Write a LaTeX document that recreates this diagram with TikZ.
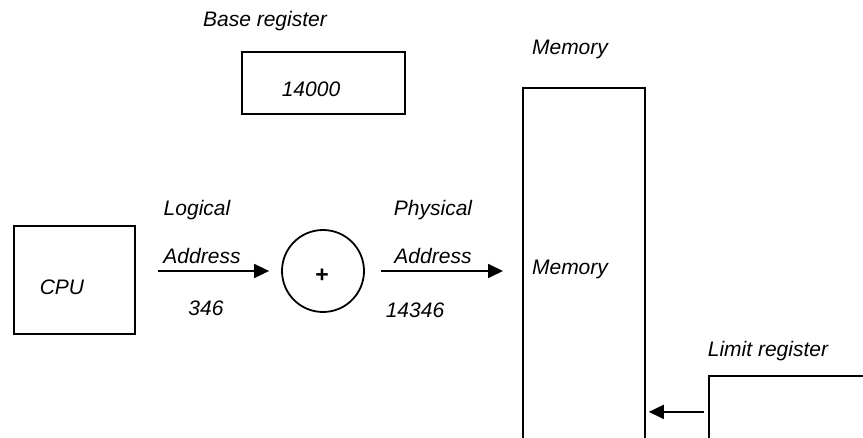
\documentclass[tikz,border=0pt]{standalone}
\usepackage{fontspec}
\setmainfont{Liberation Sans}
\usetikzlibrary{arrows.meta}

\tikzstyle{txt} = [font=\itshape\fontsize{10.5}{12}\selectfont, inner sep=0pt]
\tikzstyle{box} = [draw, line width=0.9pt, inner sep=0pt, anchor=north west]
\tikzstyle{adder} = [draw, circle, line width=0.9pt, minimum size=41pt, inner sep=0pt]
\tikzstyle{feed} = [line width=0.9pt, -{Triangle[length=7.5pt,width=7pt]}]

\begin{document}
\begin{tikzpicture}[x=0.5pt, y=-0.5pt]
\useasboundingbox (0,0) rectangle (863,438);
\clip (0,0) rectangle (863,438);
%base register
\node[txt] (baselbl) at (265,21) {Base register};
\node[box, minimum width=81.5pt, minimum height=31pt] (base) at (241,51) {};
\node[txt] (baseval) at (311,89) {14000};
%cpu
\node[box, minimum width=60.5pt, minimum height=54pt] (cpu) at (13,225) {};
\node[txt] (cputxt) at (62,287) {CPU};
%adder
\node[adder] (add) at (323,271) {};
\node[font=\bfseries\fontsize{11.5}{12}\selectfont, inner sep=0pt] (plus) at (322,276) {+};
%memory
\node[txt] (memlbl) at (570,49) {Memory};
\node[box, minimum width=61pt, minimum height=186.5pt] (mem) at (522,87) {};
\node[txt] (memtxt) at (570,269) {Memory};
%limit register
\node[txt] (limlbl) at (768,351) {Limit register};
\node[box, minimum width=91pt, minimum height=36pt] (limit) at (708,375) {};
%begin arrows
\draw[feed, shorten <=11pt, shorten >=6pt] (cpu.east |- add) -- (add);
\node[txt] (logical) at (197,210) {Logical};
\node[txt] (laddr) at (202,256) {Address};
\node[txt] (lval) at (206,308) {346};
\draw[feed, shorten <=8pt, shorten >=9.5pt] (add) -- (mem.west |- add);
\node[txt] (physical) at (433,210) {Physical};
\node[txt] (paddr) at (433,256) {Address};
\node[txt] (pval) at (415,310) {14346};
\draw[feed, shorten <=2pt, shorten >=1.5pt] (limit) -- (mem.east |- limit);
%end arrows
\end{tikzpicture}
\end{document}
